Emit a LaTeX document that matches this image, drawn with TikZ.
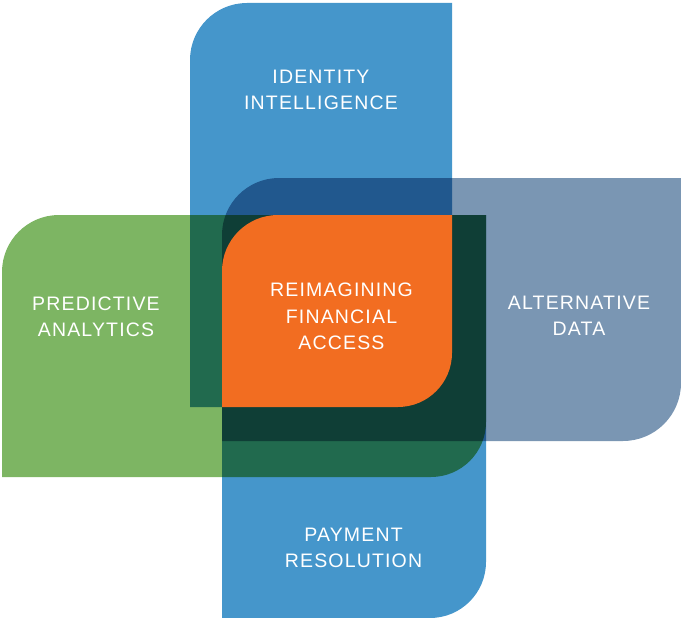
\documentclass[tikz,border=0pt]{standalone}
\usepackage{fontspec}
\newfontfamily\labelfont{Liberation Sans}[LetterSpace=6]
\definecolor{idblue}{HTML}{4596CB}
\definecolor{predgreen}{HTML}{7DB563}
\definecolor{altgray}{HTML}{7A96B3}
\definecolor{coreorange}{HTML}{F26D21}
\tikzset{
  lbl/.style={text=white, align=center, inner sep=0pt,
    font=\labelfont\fontsize{19.5}{26.5}\selectfont},
}
\begin{document}
\begin{tikzpicture}[x=1pt, y=-1pt]
\useasboundingbox (0,0) rectangle (681,618);
% the two blue bands (one fill, so the overlap is not darkened)
\fill[idblue] (190,407) -- (190,60) arc[start angle=180, end angle=270, radius=57] -- (452,3) -- (452,407) -- cycle
  (222,215) -- (486,215) -- (486,562) arc[start angle=0, end angle=90, radius=56] -- (222,618) -- cycle;
\begin{scope}[blend mode=multiply]
\fill[predgreen] (2,477) -- (2,272) arc[start angle=180, end angle=270, radius=57] -- (486,215) -- (486,422) arc[start angle=0, end angle=90, radius=55] -- cycle;
\fill[altgray] (222,441) -- (222,235) arc[start angle=180, end angle=270, radius=57] -- (681,178) -- (681,383) arc[start angle=0, end angle=90, radius=58] -- cycle;
\end{scope}
% centre
\fill[coreorange] (222,407) -- (222,271) arc[start angle=180, end angle=270, radius=56] -- (452,215) -- (452,353) arc[start angle=0, end angle=90, radius=54] -- cycle;
\node[lbl] (identity) at (321,90) {IDENTITY\\INTELLIGENCE};
\node[lbl] (predictive) at (96,317) {PREDICTIVE\\ANALYTICS};
\node[lbl] (core) at (341.5,316.5) {REIMAGINING\\FINANCIAL\\ACCESS};
\node[lbl] (alternative) at (579,316) {ALTERNATIVE\\DATA};
\node[lbl] (payment) at (353.5,548) {PAYMENT\\RESOLUTION};
\end{tikzpicture}
\end{document}
